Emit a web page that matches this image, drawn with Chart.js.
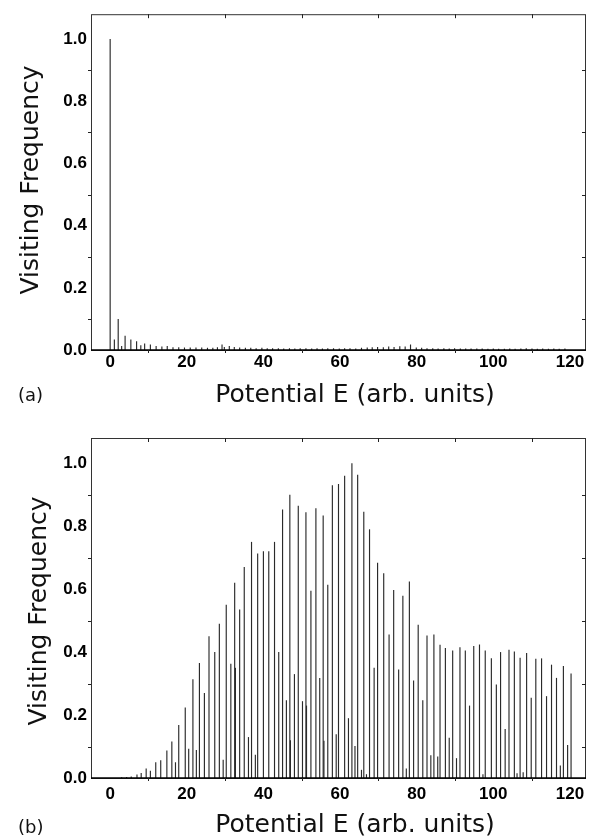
<!DOCTYPE html>
<html>
<head>
<meta charset="utf-8">
<title>Visiting Frequency vs Potential E</title>
<script src="https://cdn.jsdelivr.net/npm/chart.js@4.4.1/dist/chart.umd.min.js"></script>
<style>
  html, body { margin: 0; padding: 0; background: #fff; }
  canvas { display: block; }
</style>
</head>
<body>
<canvas id="chartA" width="594" height="420"></canvas>
<canvas id="chartB" width="594" height="420"></canvas>
<script>
/** =========================
 *  1) Data (read off the figure)
 *  ========================= */
// (a) potential energy of each line, and its visiting frequency
const energyA = [
  0.0, 1.1, 2.1, 3.0, 3.9, 5.4, 6.9, 8.0, 9.0, 10.5, 12.0, 13.5, 14.9, 16.4, 17.9,
  19.4, 20.9, 22.4, 23.9, 25.4, 26.8, 28.0, 29.2, 29.8, 31.1, 32.4, 33.8, 35.3, 36.7,
  38.1, 39.6, 41.0, 42.4, 43.9, 45.3, 46.8, 48.2, 49.6, 51.1, 52.6, 54.0, 55.4, 56.8,
  58.3, 59.8, 61.2, 62.6, 64.1, 65.6, 67.1, 68.4, 69.8, 71.3, 72.7, 74.1, 75.6, 77.0,
  78.4, 79.9, 81.3, 82.7, 84.2, 85.6, 87.1, 88.5, 89.9, 91.4, 92.8, 94.2, 95.7, 97.1,
  98.6, 100.0, 101.4, 102.9, 104.3, 105.7, 107.2, 108.6, 110.1, 111.5, 112.9, 114.4,
  115.8, 117.2, 118.7
];
const freqA = [
  1.000, 0.034, 0.100, 0.013, 0.046, 0.034, 0.028, 0.015, 0.021, 0.018, 0.013, 0.011, 0.013, 0.009, 0.009,
  0.008, 0.008, 0.008, 0.008, 0.007, 0.007, 0.009, 0.018, 0.010, 0.013, 0.010, 0.008, 0.007, 0.007,
  0.006, 0.007, 0.006, 0.006, 0.006, 0.005, 0.006, 0.005, 0.006, 0.006, 0.005, 0.006, 0.005, 0.006,
  0.006, 0.005, 0.006, 0.006, 0.005, 0.007, 0.008, 0.009, 0.010, 0.009, 0.011, 0.010, 0.012, 0.011,
  0.018, 0.008, 0.007, 0.006, 0.006, 0.005, 0.006, 0.005, 0.006, 0.005, 0.005, 0.005, 0.005, 0.005,
  0.004, 0.005, 0.004, 0.004, 0.005, 0.004, 0.005, 0.006, 0.005, 0.004, 0.005, 0.004,
  0.005, 0.004, 0.005
];

// (b)
const energyB = [
  3.0, 4.3, 5.5, 7.0, 8.1, 9.4, 10.5, 11.9, 13.2, 14.8, 16.1, 17.05, 17.9, 19.6, 20.5,
  21.6, 22.5, 23.3, 24.6, 25.8, 27.3, 28.5, 29.5, 30.3, 31.5, 32.5, 32.7, 33.8, 35.0,
  36.1, 36.9, 37.9, 38.5, 40.0, 41.4, 42.9, 44.0, 45.0, 46.0, 46.9, 47.05, 48.1, 49.1,
  50.2, 51.1, 51.25, 52.4, 53.7, 54.7, 55.6, 55.8, 56.8, 58.0, 59.0, 59.6, 61.2, 62.2,
  63.1, 63.9, 64.6, 65.6, 66.2, 66.9, 67.7, 68.9, 69.8, 71.4, 72.8, 74.0, 75.3, 76.4,
  77.3, 78.1, 79.2, 80.4, 81.6, 82.7, 83.7, 84.5, 85.5, 86.1, 87.5, 88.5, 89.4, 90.4,
  91.3, 92.7, 93.8, 94.9, 96.4, 97.3, 97.9, 99.5, 100.8, 101.9, 103.1, 104.1, 105.5,
  106.2, 107.0, 107.8, 108.7, 109.9, 111.1, 112.6, 113.9, 115.2, 116.5, 117.5, 118.3,
  119.4, 120.3
];
const freqB = [
  0.002, 0.003, 0.005, 0.011, 0.016, 0.030, 0.023, 0.050, 0.056, 0.087, 0.116, 0.050, 0.168, 0.224, 0.093,
  0.314, 0.089, 0.365, 0.270, 0.450, 0.400, 0.490, 0.058, 0.550, 0.363, 0.620, 0.350, 0.535, 0.670,
  0.130, 0.750, 0.074, 0.713, 0.720, 0.720, 0.750, 0.400, 0.853, 0.247, 0.900, 0.120, 0.330, 0.865,
  0.244, 0.844, 0.230, 0.595, 0.857, 0.318, 0.834, 0.118, 0.614, 0.930, 0.139, 0.934, 0.960, 0.190,
  1.000, 0.102, 0.963, 0.026, 0.846, 0.012, 0.790, 0.350, 0.684, 0.650, 0.456, 0.597, 0.345, 0.579,
  0.030, 0.624, 0.310, 0.487, 0.247, 0.453, 0.072, 0.456, 0.068, 0.423, 0.413, 0.128, 0.405, 0.063,
  0.415, 0.405, 0.230, 0.419, 0.424, 0.012, 0.405, 0.380, 0.297, 0.400, 0.156, 0.407, 0.402,
  0.015, 0.382, 0.018, 0.397, 0.255, 0.379, 0.380, 0.260, 0.360, 0.318, 0.040, 0.356,
  0.105, 0.332
];

const xTickLabels = [0, 20, 40, 60, 80, 100, 120];
const yTickLabels = [0.0, 0.2, 0.4, 0.6, 0.8, 1.0];

const xTitle = "Potential E (arb. units)";
const yTitle = "Visiting Frequency";

/** =========================
 *  2) Helpers
 *  ========================= */
const isMajorX = (v) => xTickLabels.some(t => Math.abs(t - v) < 1e-6);
const isMajorY = (v) => yTickLabels.some(t => Math.abs(t - v) < 1e-6);

const tickFont = { family: "'Liberation Sans', Arial, sans-serif", size: 17, weight: "bold" };

// box, inner/outer minor ticks, titles and the panel letter
const framePlugin = {
  id: "frame",
  afterDraw(chart, _args, o) {
    const { ctx, chartArea: a, scales } = chart;
    ctx.save();
    ctx.strokeStyle = "#333";
    ctx.lineWidth = 1;
    ctx.strokeRect(a.left + 0.5, a.top + 0.5, a.right - a.left - 1, a.bottom - a.top);

    ctx.strokeStyle = "#000";
    ctx.lineWidth = 1.6;
    ctx.beginPath();
    ctx.moveTo(a.left, a.bottom);
    ctx.lineTo(a.right, a.bottom);
    ctx.stroke();

    ctx.lineWidth = 1;
    ctx.strokeStyle = "#222";
    ctx.beginPath();
    scales.x.ticks.forEach(t => {
      if (isMajorX(t.value)) return;
      const px = Math.round(scales.x.getPixelForValue(t.value)) + 0.5;
      ctx.moveTo(px, a.bottom); ctx.lineTo(px, a.bottom + 3);
      ctx.moveTo(px, a.top); ctx.lineTo(px, a.top + 4);
    });
    scales.y.ticks.forEach(t => {
      if (isMajorY(t.value)) return;
      const py = Math.round(scales.y.getPixelForValue(t.value)) + 0.5;
      ctx.moveTo(a.left - 3, py); ctx.lineTo(a.left, py);
      ctx.moveTo(a.right - 4, py); ctx.lineTo(a.right, py);
    });
    ctx.stroke();

    ctx.fillStyle = "#111";
    ctx.textBaseline = "alphabetic";
    ctx.font = "25px 'DejaVu Sans'";
    ctx.textAlign = "center";
    ctx.fillText(xTitle, o.xTitleX, o.xTitleBase);

    ctx.save();
    ctx.translate(o.yTitleBase, o.yTitleY);
    ctx.rotate(-Math.PI / 2);
    ctx.fillText(yTitle, 0, 0);
    ctx.restore();

    ctx.font = "18px 'DejaVu Sans'";
    ctx.textAlign = "left";
    ctx.fillText(o.label, 18, o.labelBase);
    ctx.restore();
  }
};

/** =========================
 *  3) Chart builder
 *  ========================= */
function makeChart(id, energy, freq, cfg) {
  const points = energy.map((e, i) => ({ x: e, y: freq[i] }));
  return new Chart(document.getElementById(id), {
    type: "bar",
    data: {
      datasets: [{
        data: points,
        backgroundColor: "#2a2a2a",
        borderWidth: 0,
        barThickness: 1.15,
        inflateAmount: 0
      }]
    },
    options: {
      responsive: false,
      animation: false,
      events: [],
      layout: { padding: { left: 0, top: cfg.top, right: 8, bottom: 0 } },
      plugins: {
        legend: { display: false },
        tooltip: { enabled: false },
        frame: cfg.frame
      },
      scales: {
        x: {
          type: "linear",
          min: -5,
          max: 124.2,
          offset: false,
          grid: { display: false, drawTicks: false },
          border: { display: false },
          ticks: {
            stepSize: 10,
            includeBounds: false,
            autoSkip: false,
            maxRotation: 0,
            padding: cfg.xPad,
            color: "#000",
            font: tickFont,
            callback: (v) => isMajorX(v) ? String(Math.round(v)) : ""
          },
          afterFit: (s) => { s.height = cfg.xHeight; }
        },
        y: {
          min: 0,
          max: 1.08,
          grid: { display: false, drawTicks: false },
          border: { display: false },
          ticks: {
            stepSize: 0.1,
            includeBounds: false,
            autoSkip: false,
            padding: 4,
            color: "#000",
            font: tickFont,
            callback: (v) => isMajorY(v) ? v.toFixed(1) : ""
          },
          afterFit: (s) => { s.width = 91; }
        }
      }
    },
    plugins: [framePlugin]
  });
}

makeChart("chartA", energyA, freqA, {
  top: 7, xHeight: 70, xPad: 2,
  frame: { label: "(a)", labelBase: 401, xTitleX: 355, xTitleBase: 402, yTitleBase: 38, yTitleY: 180 }
});

makeChart("chartB", energyB, freqB, {
  top: 18, xHeight: 62, xPad: 6,
  frame: { label: "(b)", labelBase: 413, xTitleX: 355, xTitleBase: 412, yTitleBase: 46, yTitleY: 191 }
});
</script>
</body>
</html>
